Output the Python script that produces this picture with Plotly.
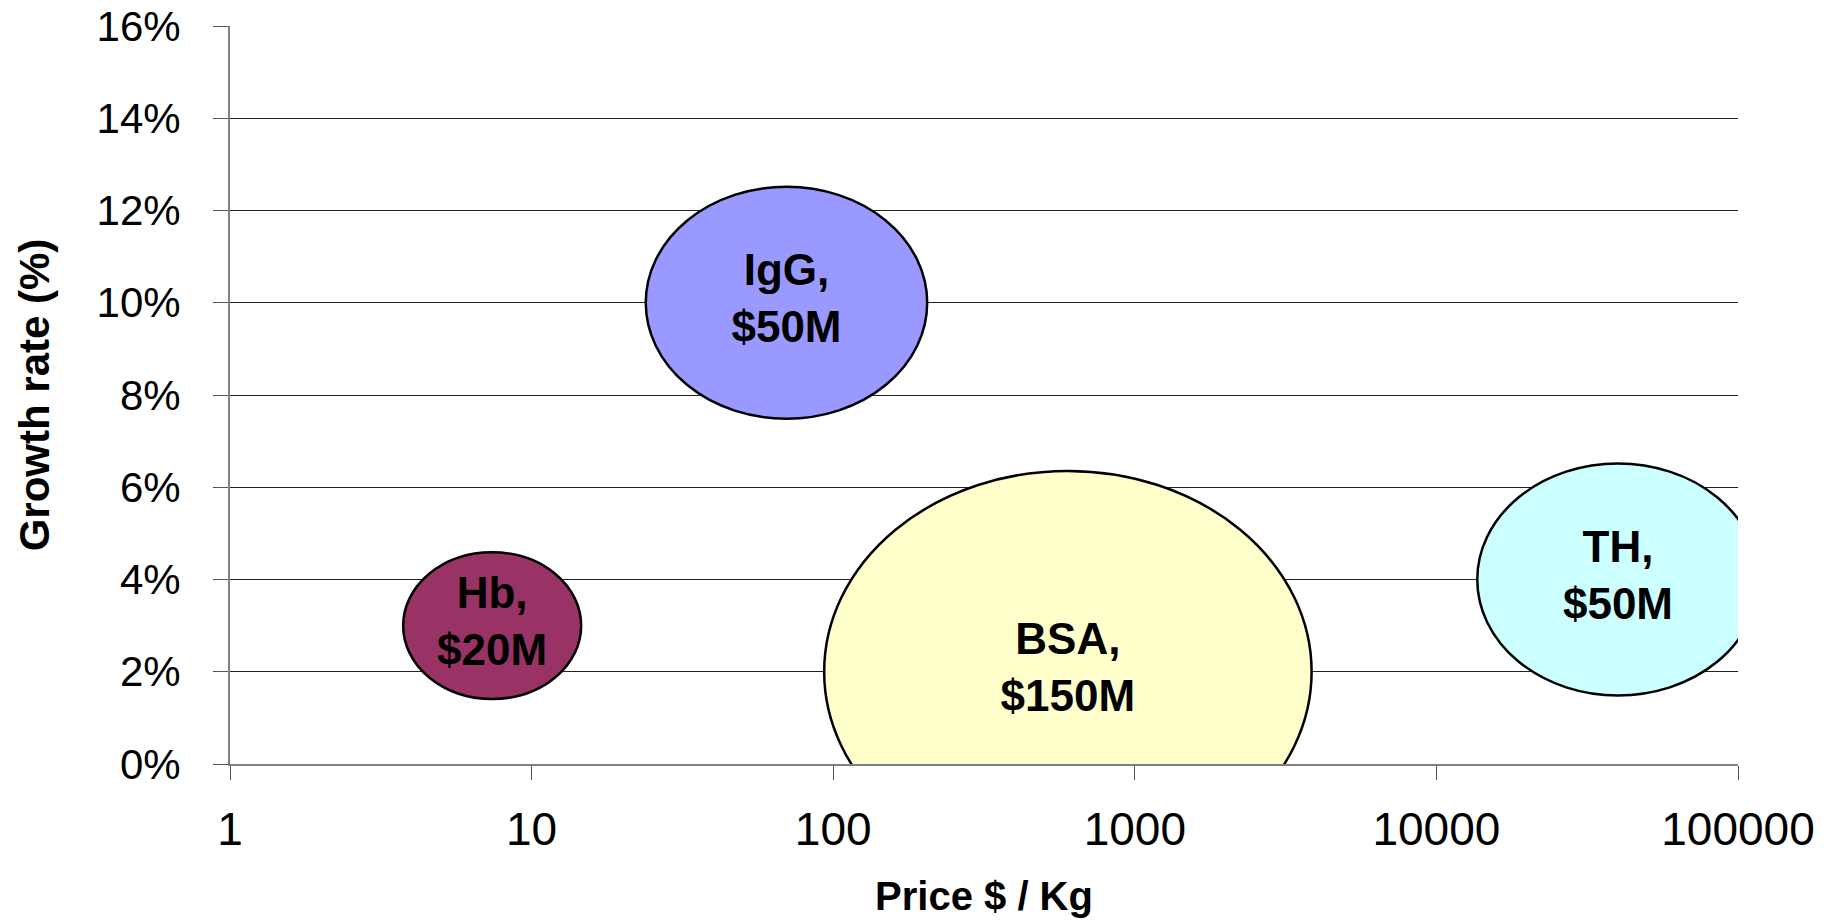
"""
Bubble chart: protein growth rate vs price, bubble = market size
"""

import numpy as np
import plotly.graph_objects as go

# data
proteins = ["IgG", "Hb", "BSA", "TH"]
price_per_kg = [70, 7.4, 600, 40000]          # $ / Kg
growth_rate = [0.10, 0.03, 0.02, 0.04]         # fraction
market_musd = [50, 20, 150, 50]                # $M
bubble_colors = ["#9999FF", "#993366", "#FFFFCC", "#CCFFFF"]

x_tickvals = [1, 10, 100, 1000, 10000, 100000]
x_ticktext = ["1", "10", "100", "1000", "10000", "100000"]

FONT = "Arial, 'Liberation Sans', sans-serif"

# bubble pixel size per sqrt($M) (the chart is stretched wider than tall)
KW = 39.8
KH = 32.8

# bubbles + labels live on a hidden linear axis in log10 units,
# the visible log axis (x2) is overlaid on top of it
log_price = np.log10(price_per_kg)
log_range = [np.log10(x_tickvals[0]), np.log10(x_tickvals[-1])]

fig = go.Figure()

# bubbles as ellipses anchored at the data point, sized by market
for lx, gr, m, col in zip(log_price, growth_rate, market_musd, bubble_colors):
    w = KW * np.sqrt(m)
    h = KH * np.sqrt(m)
    fig.add_shape(
        type="circle",
        xref="x", yref="y",
        xsizemode="pixel", ysizemode="pixel",
        xanchor=lx, yanchor=gr,
        x0=-w / 2, x1=w / 2, y0=-h / 2, y1=h / 2,
        fillcolor=col,
        line=dict(color="black", width=2.5),
        layer="between",
    )

labels = [f"{p},<br>${m}M" for p, m in zip(proteins, market_musd)]
fig.add_trace(go.Scatter(
    x=log_price,
    y=growth_rate,
    mode="text",
    text=labels,
    textposition="middle center",
    textfont=dict(family=FONT, size=44, color="black", weight="bold"),
    hoverinfo="skip",
    showlegend=False,
))

# invisible points on the real log axis (draws that axis, gives hover)
fig.add_trace(go.Scatter(
    x=price_per_kg,
    y=growth_rate,
    xaxis="x2",
    mode="markers",
    marker=dict(size=1, opacity=0),
    customdata=market_musd,
    text=proteins,
    hovertemplate="%{text}<br>Price: %{x} $/Kg<br>Growth: %{y:.0%}<br>Market: $%{customdata}M<extra></extra>",
    showlegend=False,
))

fig.update_layout(
    xaxis=dict(
        range=log_range,
        visible=False,
        automargin=False,
    ),
    xaxis2=dict(
        overlaying="x",
        anchor="y",
        side="bottom",
        type="log",
        range=log_range,
        tickvals=x_tickvals,
        ticktext=x_ticktext,
        tickfont=dict(family=FONT, size=46, color="black"),
        ticks="outside", ticklen=14, tickwidth=1, tickcolor="#555555",
        ticklabelstandoff=10,
        ticklabeloverflow="allow",
        showline=True, linecolor="#808080", linewidth=2,
        showgrid=False, zeroline=False,
        automargin=False,
        title=dict(text="Price $ / Kg",
                   font=dict(family=FONT, size=40, color="black", weight="bold"),
                   standoff=28),
    ),
    yaxis=dict(
        range=[0, 0.16],
        dtick=0.02,
        tickformat=".0%",
        tickfont=dict(family=FONT, size=42, color="black"),
        ticks="outside", ticklen=15, tickwidth=1, tickcolor="#555555",
        ticklabelstandoff=24,
        ticklabeloverflow="allow",
        showline=True, linecolor="#808080", linewidth=2,
        showgrid=True, gridcolor="#222222", gridwidth=1,
        zeroline=False,
        automargin=False,
        title=dict(text="Growth rate (%)",
                   font=dict(family=FONT, size=42, color="black", weight="bold"),
                   standoff=34),
    ),
)

# small border line at the right edge of the original slide
fig.add_shape(type="line", xref="paper", yref="paper", x0=1.0564, x1=1.0564, y0=-0.06, y1=-0.22,
              line=dict(color="#888888", width=1))

# page body has an 8px margin, so the figure is a little smaller than the window
fig.update_layout(
    width=1821,
    height=915,
    margin=dict(l=222, r=91, t=18, b=159),
    plot_bgcolor="white",
    paper_bgcolor="white",
    font=dict(family=FONT, color="black"),
    showlegend=False,
    hovermode="closest",
)

fig.write_html("out.html")
